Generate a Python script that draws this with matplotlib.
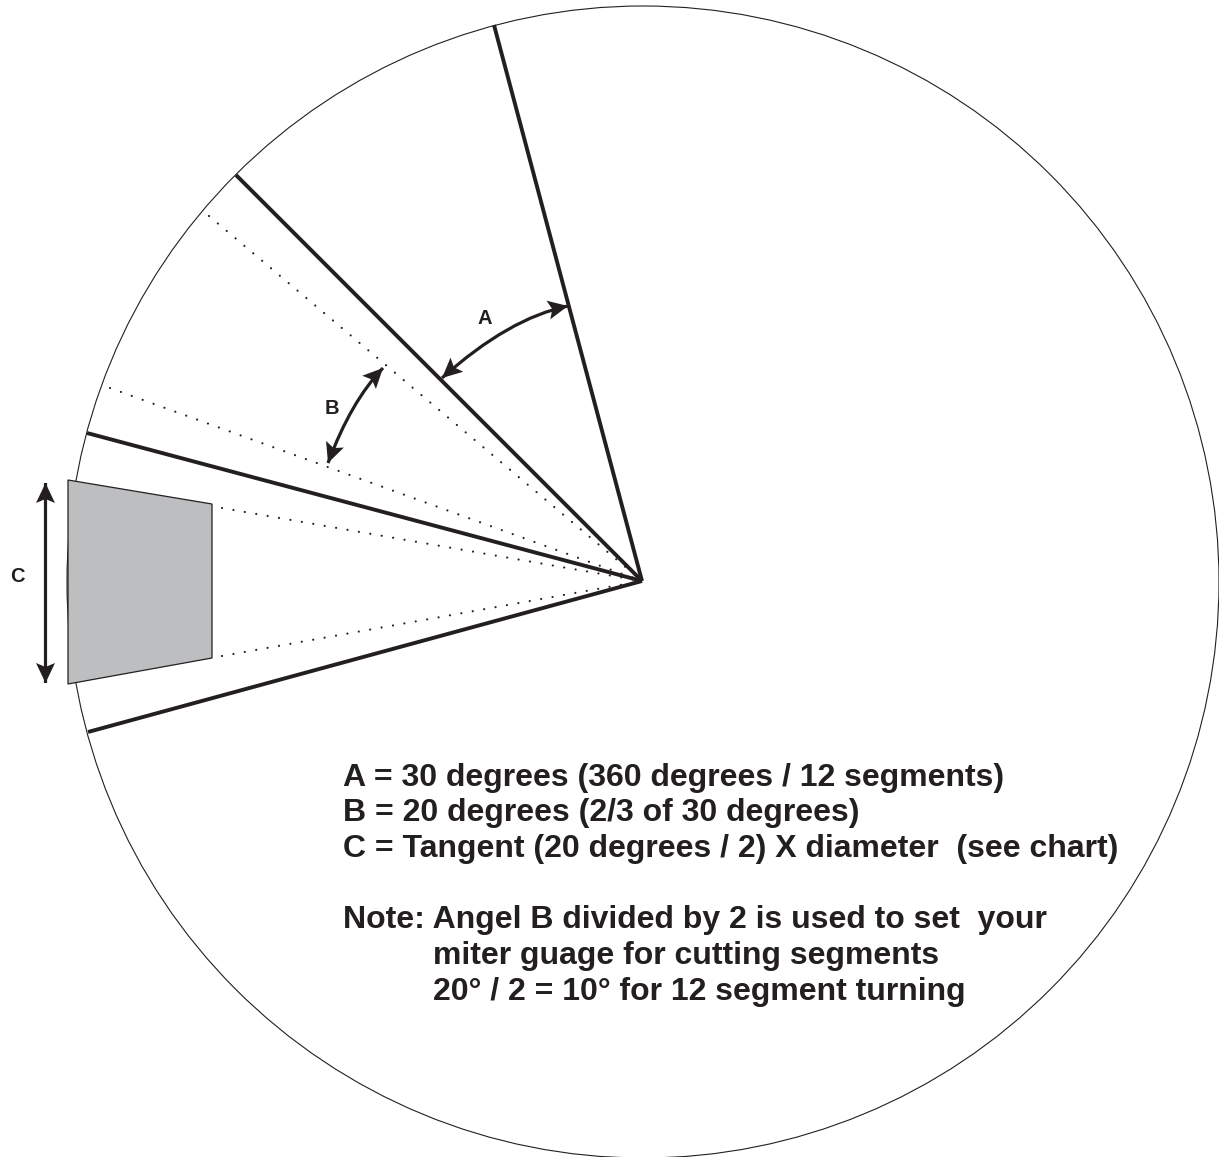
import numpy as np
import matplotlib
matplotlib.use('Agg')
import matplotlib.pyplot as plt
from matplotlib.patches import Circle, Polygon, PathPatch
from matplotlib.path import Path

WIDTH, HEIGHT = 1219, 1157
INK = '#231f20'

# pixel geometry
centre = (642, 581)
rim_centre = (643, 582)
radius = 576
solid_ends = [(494, 25), (236, 175), (87, 433), (88, 732)]
dotted_ends = [(209, 216), (110, 388), (222, 508), (222, 656)]
segment = [(68, 480), (212, 504), (212, 658), (68, 684)]

# start tip, control point, end tip
arrows = [
    ((568, 306), (509, 318), (442, 378)),
    ((383, 368), (351, 401), (328, 463)),
    ((45.5, 483), (45.5, 583), (45.5, 683)),
]
arrow_labels = [('A', 485, 319), ('B', 332, 408), ('C', 17, 576)]

# text, left edge, baseline
note_lines = [
    ('A = 30 degrees (360 degrees / 12 segments)', 343, 786),
    ('B = 20 degrees (2/3 of 30 degrees)', 343, 821),
    ('C = Tangent (20 degrees / 2) X diameter  (see chart)', 343, 857),
    ('Note: Angel B divided by 2 is used to set  your', 343, 928),
    ('miter guage for cutting segments', 433, 964),
    ('20° / 2 = 10° for 12 segment turning', 433, 1000),
]

plt.rcParams['font.family'] = ['Liberation Sans', 'DejaVu Sans']


def draw_head(ax, tip, towards, length=20, width=19, notch=4):
    """Barbed arrow head with its point at `tip`, pointing away from `towards`."""
    tip = np.array(tip, dtype=float)
    back = np.array(towards, dtype=float) - tip
    back /= np.hypot(*back)
    side = np.array([-back[1], back[0]])
    base = tip + back * length
    points = [tip, base + side * width / 2, tip + back * (length - notch),
              base - side * width / 2]
    ax.add_patch(Polygon(points, closed=True, fc=INK, ec='none', zorder=4))


fig = plt.figure(figsize=(WIDTH / 100, HEIGHT / 100), dpi=100)
ax = fig.add_axes([0, 0, 1, 1])
ax.set_xlim(0, WIDTH)
ax.set_ylim(HEIGHT, 0)
ax.axis('off')

ax.add_patch(Circle(rim_centre, radius, fill=False, ec=INK, lw=0.8))
ax.add_patch(Polygon(segment, closed=True, fc='#bcbec0', ec=INK, lw=0.9))

for x, y in solid_ends:
    ax.plot([centre[0], x], [centre[1], y], color=INK, lw=2.8,
            solid_capstyle='butt')
for x, y in dotted_ends:
    ax.plot([x, centre[0]], [y, centre[1]], color=INK, lw=1.6,
            dashes=(0.01, 5.2), dash_capstyle='round')

for start, control, end in arrows:
    curve = Path([start, control, end],
                 [Path.MOVETO, Path.CURVE3, Path.CURVE3])
    ax.add_patch(PathPatch(curve, fill=False, ec=INK, lw=2.3, zorder=3))
    draw_head(ax, start, control)
    draw_head(ax, end, control)

for label, x, y in arrow_labels:
    ax.text(x, y, label, ha='center', va='center', fontsize=14.5,
            fontweight='bold', color=INK)

for line, x, y in note_lines:
    ax.text(x, y, line, ha='left', va='baseline', fontsize=23,
            fontweight='bold', color=INK)

fig.savefig('out.png', dpi=100)
